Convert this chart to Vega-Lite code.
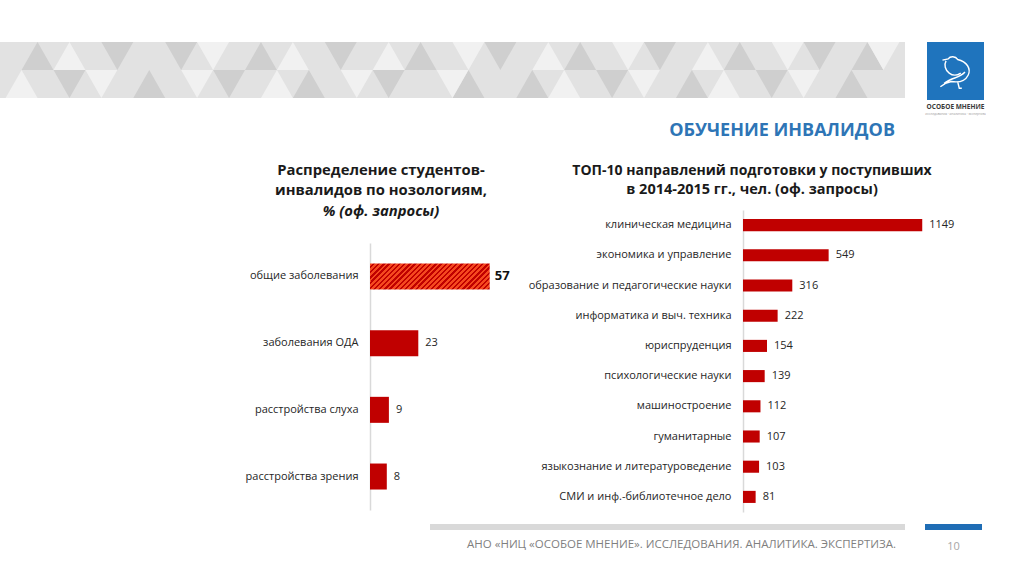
{
  "$schema": "https://vega.github.io/schema/vega-lite/v6.json",
  "background": "white",
  "padding": {"left": 0, "top": 42, "right": 0, "bottom": 0},
  "config": {
    "font": "Open Sans",
    "view": {"stroke": null},
    "axis": {"labelFont": "Open Sans"},
    "title": {"font": "Open Sans", "subtitleFont": "Open Sans"}
  },
  "datasets": {
    "nosology": [
      {"cat": "общие заболевания", "v": 57},
      {"cat": "заболевания ОДА", "v": 23},
      {"cat": "расстройства слуха", "v": 9},
      {"cat": "расстройства зрения", "v": 8}
    ],
    "top10": [
      {"cat": "клиническая медицина", "v": 1149},
      {"cat": "экономика и управление", "v": 549},
      {"cat": "образование и педагогические науки", "v": 316},
      {"cat": "информатика и выч. техника", "v": 222},
      {"cat": "юриспруденция", "v": 154},
      {"cat": "психологические науки", "v": 139},
      {"cat": "машиностроение", "v": 112},
      {"cat": "гуманитарные", "v": 107},
      {"cat": "языкознание и литературоведение", "v": 103},
      {"cat": "СМИ и инф.-библиотечное дело", "v": 81}
    ]
  },
  "spacing": 23,
  "vconcat": [
    {
      "spacing": 20,
      "hconcat": [
        {
          "width": 905,
          "height": 56,
          "view": {"fill": "#e2e2e2"},
          "data": {"values": [{}]},
          "title": {"text": "ОБУЧЕНИЕ ИНВАЛИДОВ", "orient": "bottom", "anchor": "end", "dx": -10, "offset": 24, "fontSize": 18, "fontWeight": "bold", "color": "#2e75b6"},
          "layer": [
            {
              "mark": {"type": "point", "filled": true, "opacity": 1, "color": "#cfcfcf", "size": 3136, "strokeWidth": 0,
                "shape": "M-14.82 -1L-14.25 0L-15.39 0Z M-12.54 -1L-11.4 -1L-11.97 0Z M-10.26 -1L-9.12 -1L-9.69 0Z M-6.84 -1L-6.27 0L-7.41 0Z M-4.56 -1L-3.42 -1L-3.99 0Z M-1.14 -1L-0.57 0L-1.71 0Z M1.14 -1L2.28 -1L1.71 0Z M4.56 -1L5.13 0L3.99 0Z M6.84 -1L7.98 -1L7.41 0Z M10.26 -1L10.83 0L9.69 0Z M12.54 -1L13.68 -1L13.11 0Z M14.82 -1L15.39 0L14.25 0Z M-14.25 0L-13.11 0L-13.68 1Z M-10.83 0L-10.26 1L-11.4 1Z M-8.55 0L-7.41 0L-7.98 1Z M-5.13 0L-4.56 1L-5.7 1Z M-2.85 0L-1.71 0L-2.28 1Z M0.57 0L1.14 1L0 1Z M2.85 0L3.42 1L2.28 1Z M5.13 0L6.27 0L5.7 1Z M8.55 0L9.12 1L7.98 1Z M10.83 0L11.97 0L11.4 1Z M14.25 0L14.82 1L13.68 1Z"},
              "encoding": {}
            },
            {
              "mark": {"type": "point", "filled": true, "opacity": 1, "color": "#f1f1f1", "size": 3136, "strokeWidth": 0,
                "shape": "M-13.68 -1L-13.11 0L-14.25 0Z M-9.12 -1L-7.98 -1L-8.55 0Z M-5.7 -1L-5.13 0L-6.27 0Z M-2.28 -1L-1.71 0L-2.85 0Z M0 -1L1.14 -1L0.57 0Z M3.42 -1L3.99 0L2.85 0Z M5.7 -1L6.84 -1L6.27 0Z M9.12 -1L9.69 0L8.55 0Z M11.4 -1L12.54 -1L11.97 0Z M14.82 -1L15.96 -1L15.39 0Z M-15.39 0L-14.82 1L-15.96 1Z M-13.11 0L-11.97 0L-12.54 1Z M-9.69 0L-8.55 0L-9.12 1Z M-6.27 0L-5.7 1L-6.84 1Z M-3.99 0L-2.85 0L-3.42 1Z M-0.57 0L0.57 0L0 1Z M3.99 0L4.56 1L3.42 1Z M6.27 0L7.41 0L6.84 1Z M9.69 0L10.26 1L9.12 1Z M11.97 0L13.11 0L12.54 1Z"},
              "encoding": {}
            }
          ]
        },
        {
          "width": 57,
          "height": 58,
          "view": {"fill": "#1f74bd"},
          "data": {"values": [{}]},
          "title": {"text": "ОСОБОЕ МНЕНИЕ", "subtitle": "исследования · аналитика · экспертиза", "orient": "bottom", "offset": 4, "fontSize": 6.5, "fontWeight": "bold", "color": "#3a3a3a", "subtitleFontSize": 3.2, "subtitleColor": "#999999", "subtitlePadding": 1},
          "mark": {"type": "point", "filled": false, "opacity": 1, "color": "white", "strokeWidth": 1.4, "size": 1764,
            "shape": "M-0.62 -0.52 L-0.35 -0.58 C-0.25 -0.72 0 -0.72 0.1 -0.55 C0.55 -0.45 0.75 -0.1 0.6 0.2 C0.45 0.5 0.1 0.55 -0.2 0.5 C-0.45 0.55 -0.6 0.65 -0.72 0.75 M-0.45 -0.48 C-0.55 -0.3 -0.5 -0.05 -0.3 0.1 C-0.1 0.25 0.1 0.2 0.25 0.1 M-0.55 0.6 C-0.2 0.3 0.2 0.35 0.45 0.05 M0.1 0.5 L0.18 0.82 L0.3 0.82"},
          "encoding": {}
        }
      ]
    },
    {
      "spacing": 9,
      "vconcat": [
        {
          "spacing": 10,
          "hconcat": [
            {
              "width": 235,
              "height": 1,
              "data": {"values": [{}]},
              "mark": {"type": "point", "opacity": 0},
              "encoding": {}
            },
            {
              "width": 147,
              "height": 300,
              "data": {"name": "nosology"},
              "title": {"text": ["Распределение студентов-", "инвалидов по нозологиям,"], "subtitle": "% (оф. запросы)", "frame": "bounds", "anchor": "middle", "fontSize": 14.8, "fontWeight": "bold", "color": "#1a1a1a", "lineHeight": 20, "subtitleFontSize": 14.8, "subtitleFontWeight": "bold", "subtitleFontStyle": "italic", "subtitleColor": "#1a1a1a", "subtitlePadding": 6, "offset": -9},
              "encoding": {
                "y": {"field": "cat", "type": "nominal", "sort": ["общие заболевания", "заболевания ОДА", "расстройства слуха", "расстройства зрения"],
                  "scale": {"range": [33, 300], "paddingInner": 0.61, "paddingOuter": 0.307},
                  "axis": {"title": null, "ticks": false, "domainColor": "#d9d9d9", "domainWidth": 1.5, "labelPadding": 12, "labelFontSize": 11, "labelColor": "#262626", "minExtent": 125}},
                "x": {"field": "v", "type": "quantitative", "scale": {"domain": [0, 70], "nice": false}, "axis": null}
              },
              "layer": [
                {
                  "mark": {"type": "bar"},
                  "encoding": {
                    "fill": {
                      "condition": {"test": "datum.v > 50", "value": {"gradient": "linear", "x1": 0, "y1": 0, "x2": 1.162, "y2": 0.252, "stops": [
                        {"offset": 0, "color": "#f5481f"}, {"offset": 0.02, "color": "#f5481f"}, {"offset": 0.02, "color": "#c00000"}, {"offset": 0.036, "color": "#c00000"},
                        {"offset": 0.036, "color": "#f5481f"}, {"offset": 0.055, "color": "#f5481f"}, {"offset": 0.055, "color": "#c00000"}, {"offset": 0.071, "color": "#c00000"},
                        {"offset": 0.071, "color": "#f5481f"}, {"offset": 0.091, "color": "#f5481f"}, {"offset": 0.091, "color": "#c00000"}, {"offset": 0.107, "color": "#c00000"},
                        {"offset": 0.107, "color": "#f5481f"}, {"offset": 0.127, "color": "#f5481f"}, {"offset": 0.127, "color": "#c00000"}, {"offset": 0.143, "color": "#c00000"},
                        {"offset": 0.143, "color": "#f5481f"}, {"offset": 0.163, "color": "#f5481f"}, {"offset": 0.163, "color": "#c00000"}, {"offset": 0.179, "color": "#c00000"},
                        {"offset": 0.179, "color": "#f5481f"}, {"offset": 0.198, "color": "#f5481f"}, {"offset": 0.198, "color": "#c00000"}, {"offset": 0.214, "color": "#c00000"},
                        {"offset": 0.214, "color": "#f5481f"}, {"offset": 0.234, "color": "#f5481f"}, {"offset": 0.234, "color": "#c00000"}, {"offset": 0.25, "color": "#c00000"},
                        {"offset": 0.25, "color": "#f5481f"}, {"offset": 0.27, "color": "#f5481f"}, {"offset": 0.27, "color": "#c00000"}, {"offset": 0.286, "color": "#c00000"},
                        {"offset": 0.286, "color": "#f5481f"}, {"offset": 0.305, "color": "#f5481f"}, {"offset": 0.305, "color": "#c00000"}, {"offset": 0.321, "color": "#c00000"},
                        {"offset": 0.321, "color": "#f5481f"}, {"offset": 0.341, "color": "#f5481f"}, {"offset": 0.341, "color": "#c00000"}, {"offset": 0.357, "color": "#c00000"},
                        {"offset": 0.357, "color": "#f5481f"}, {"offset": 0.377, "color": "#f5481f"}, {"offset": 0.377, "color": "#c00000"}, {"offset": 0.393, "color": "#c00000"},
                        {"offset": 0.393, "color": "#f5481f"}, {"offset": 0.413, "color": "#f5481f"}, {"offset": 0.413, "color": "#c00000"}, {"offset": 0.429, "color": "#c00000"},
                        {"offset": 0.429, "color": "#f5481f"}, {"offset": 0.448, "color": "#f5481f"}, {"offset": 0.448, "color": "#c00000"}, {"offset": 0.464, "color": "#c00000"},
                        {"offset": 0.464, "color": "#f5481f"}, {"offset": 0.484, "color": "#f5481f"}, {"offset": 0.484, "color": "#c00000"}, {"offset": 0.5, "color": "#c00000"},
                        {"offset": 0.5, "color": "#f5481f"}, {"offset": 0.52, "color": "#f5481f"}, {"offset": 0.52, "color": "#c00000"}, {"offset": 0.536, "color": "#c00000"},
                        {"offset": 0.536, "color": "#f5481f"}, {"offset": 0.555, "color": "#f5481f"}, {"offset": 0.555, "color": "#c00000"}, {"offset": 0.571, "color": "#c00000"},
                        {"offset": 0.571, "color": "#f5481f"}, {"offset": 0.591, "color": "#f5481f"}, {"offset": 0.591, "color": "#c00000"}, {"offset": 0.607, "color": "#c00000"},
                        {"offset": 0.607, "color": "#f5481f"}, {"offset": 0.627, "color": "#f5481f"}, {"offset": 0.627, "color": "#c00000"}, {"offset": 0.643, "color": "#c00000"},
                        {"offset": 0.643, "color": "#f5481f"}, {"offset": 0.663, "color": "#f5481f"}, {"offset": 0.663, "color": "#c00000"}, {"offset": 0.679, "color": "#c00000"},
                        {"offset": 0.679, "color": "#f5481f"}, {"offset": 0.698, "color": "#f5481f"}, {"offset": 0.698, "color": "#c00000"}, {"offset": 0.714, "color": "#c00000"},
                        {"offset": 0.714, "color": "#f5481f"}, {"offset": 0.734, "color": "#f5481f"}, {"offset": 0.734, "color": "#c00000"}, {"offset": 0.75, "color": "#c00000"},
                        {"offset": 0.75, "color": "#f5481f"}, {"offset": 0.77, "color": "#f5481f"}, {"offset": 0.77, "color": "#c00000"}, {"offset": 0.786, "color": "#c00000"},
                        {"offset": 0.786, "color": "#f5481f"}, {"offset": 0.805, "color": "#f5481f"}, {"offset": 0.805, "color": "#c00000"}, {"offset": 0.821, "color": "#c00000"},
                        {"offset": 0.821, "color": "#f5481f"}, {"offset": 0.841, "color": "#f5481f"}, {"offset": 0.841, "color": "#c00000"}, {"offset": 0.857, "color": "#c00000"},
                        {"offset": 0.857, "color": "#f5481f"}, {"offset": 0.877, "color": "#f5481f"}, {"offset": 0.877, "color": "#c00000"}, {"offset": 0.893, "color": "#c00000"},
                        {"offset": 0.893, "color": "#f5481f"}, {"offset": 0.913, "color": "#f5481f"}, {"offset": 0.913, "color": "#c00000"}, {"offset": 0.929, "color": "#c00000"},
                        {"offset": 0.929, "color": "#f5481f"}, {"offset": 0.948, "color": "#f5481f"}, {"offset": 0.948, "color": "#c00000"}, {"offset": 0.964, "color": "#c00000"},
                        {"offset": 0.964, "color": "#f5481f"}, {"offset": 0.984, "color": "#f5481f"}, {"offset": 0.984, "color": "#c00000"}, {"offset": 1, "color": "#c00000"}
                      ]}},
                      "value": "#c00000"
                    }
                  }
                },
                {
                  "transform": [{"filter": "datum.v <= 50"}],
                  "mark": {"type": "text", "align": "left", "baseline": "middle", "dx": 7, "fontSize": 11, "color": "#262626"},
                  "encoding": {"text": {"field": "v", "type": "quantitative"}}
                },
                {
                  "transform": [{"filter": "datum.v > 50"}],
                  "mark": {"type": "text", "align": "left", "baseline": "middle", "dx": 5, "fontSize": 13, "fontWeight": "bold", "color": "#111111"},
                  "encoding": {"text": {"field": "v", "type": "quantitative"}}
                }
              ]
            },
            {
              "width": 234,
              "height": 302,
              "data": {"name": "top10"},
              "title": {"text": "ТОП-10 направлений подготовки у поступивших", "subtitle": "в 2014-2015 гг., чел. (оф. запросы)", "frame": "bounds", "anchor": "middle", "fontSize": 14, "fontWeight": "bold", "color": "#1a1a1a", "lineHeight": 20, "subtitleFontSize": 14.5, "subtitleFontWeight": "bold", "subtitleColor": "#1a1a1a", "subtitlePadding": 5, "offset": 14},
              "encoding": {
                "y": {"field": "cat", "type": "nominal", "sort": {"field": "v", "order": "descending"},
                  "scale": {"paddingInner": 0.6, "paddingOuter": 0.3},
                  "axis": {"title": null, "ticks": false, "domainColor": "#d9d9d9", "domainWidth": 1.5, "labelPadding": 12, "labelFontSize": 11, "labelColor": "#262626", "minExtent": 216, "labelLimit": 215}},
                "x": {"field": "v", "type": "quantitative", "scale": {"domain": [0, 1500], "nice": false}, "axis": null}
              },
              "layer": [
                {"mark": {"type": "bar", "color": "#c00000"}},
                {
                  "mark": {"type": "text", "align": "left", "baseline": "middle", "dx": 7, "fontSize": 11, "color": "#262626"},
                  "encoding": {"text": {"field": "v", "type": "quantitative"}}
                }
              ]
            }
          ]
        },
        {
          "spacing": 20,
          "hconcat": [
            {
              "width": 410,
              "height": 1,
              "data": {"values": [{}]},
              "mark": {"type": "point", "opacity": 0},
              "encoding": {}
            },
            {
              "width": 475,
              "height": 6,
              "view": {"fill": "#d9d9d9"},
              "data": {"values": [{}]},
              "title": {"text": "АНО «НИЦ «ОСОБОЕ МНЕНИЕ». ИССЛЕДОВАНИЯ. АНАЛИТИКА. ЭКСПЕРТИЗА.", "orient": "bottom", "offset": 9, "dx": 14, "fontSize": 11.5, "fontWeight": "normal", "color": "#7f7f7f"},
              "mark": {"type": "point", "opacity": 0},
              "encoding": {}
            },
            {
              "width": 57,
              "height": 6,
              "view": {"fill": "#1f6db5"},
              "data": {"values": [{}]},
              "title": {"text": "10", "orient": "bottom", "offset": 11, "fontSize": 11, "fontWeight": "normal", "color": "#a6a6a6"},
              "mark": {"type": "point", "opacity": 0},
              "encoding": {}
            }
          ]
        }
      ]
    }
  ]
}
